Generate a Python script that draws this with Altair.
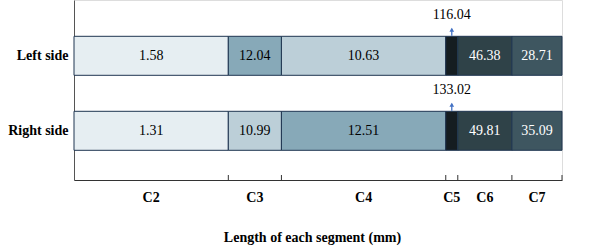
import altair as alt
import pandas as pd

segments = ["C2", "C3", "C4", "C5", "C6", "C7"]
seg_length = [15.4, 5.3, 16.4, 1.2, 5.4, 5.0]
sides = ["Left side", "Right side"]
left_values = [1.58, 12.04, 10.63, 116.04, 46.38, 28.71]
right_values = [1.31, 10.99, 12.51, 133.02, 49.81, 35.09]
shades = ["#e6eef2", "#bccfd8", "#87a9b8", "#3e5660", "#2f4248", "#151d21"]
text_shades = ["black", "black", "black", "white", "white", "white"]

rows = []
for side, vals in zip(sides, [left_values, right_values]):
    order = sorted(range(len(vals)), key=lambda i: vals[i])
    rank = {idx: r for r, idx in enumerate(order)}
    start = 0.0
    for i, (seg, ln, v) in enumerate(zip(segments, seg_length, vals)):
        rows.append({
            "side": side, "segment": seg, "value": v,
            "start": start, "end": start + ln, "mid": start + ln / 2,
            "rank": rank[i], "fill": shades[rank[i]], "tcolor": text_shades[rank[i]],
        })
        start += ln
df = pd.DataFrame(rows)
total = sum(seg_length)
FONT = "Liberation Serif"

base = alt.Chart(df)

yenc = alt.Y("side:N", sort=sides,
             scale=alt.Scale(domain=sides, paddingInner=0.48, paddingOuter=0.44, align=0.55),
             axis=alt.Axis(title=None, ticks=False, labelPadding=6, labelFont=FONT,
                           labelFontSize=14, labelFontWeight="bold", labelColor="black",
                           domainColor="#555555", labelLimit=200))
xscale = alt.Scale(domain=[0, total], nice=False, zero=True)

bars = base.mark_bar(stroke="#1f3550", strokeWidth=1).encode(
    x=alt.X("start:Q", scale=xscale,
            axis=alt.Axis(title="Length of each segment (mm)", labels=False, ticks=False,
                          grid=False, domainColor="#333333", titleFont=FONT,
                          titleFontSize=14, titleFontWeight="bold", titleColor="black",
                          titlePadding=50, titleX=238, titleAlign="center")),
    x2="end:Q",
    y=yenc,
    fill=alt.Fill("fill:N", scale=None),
)

labels = base.transform_filter(alt.datum.segment != "C5").mark_text(
    font=FONT, fontSize=14).encode(
    x="mid:Q", y=alt.Y("side:N", sort=sides), text=alt.Text("value:Q", format=".2f"),
    color=alt.Color("tcolor:N", scale=None))

top_labels = base.transform_filter(alt.datum.segment == "C5").mark_text(
    font=FONT, fontSize=14, yOffset=-41, color="black").encode(
    x="mid:Q", y=alt.Y("side:N", sort=sides), text=alt.Text("value:Q", format=".2f"))

arrow_shaft = base.transform_filter(alt.datum.segment == "C5").mark_rule(
    color="#4472c4", strokeWidth=1.3, yOffset=-20, y2Offset=-27).encode(
    x="mid:Q", y=alt.Y("side:N", sort=sides), y2="side:N")

arrow_head = base.transform_filter(alt.datum.segment == "C5").mark_point(
    shape="triangle-up", filled=True, color="#4472c4", size=22, opacity=1, yOffset=-26).encode(
    x="mid:Q", y=alt.Y("side:N", sort=sides))

seg_df = df[df.side == "Left side"]
cat_labels = alt.Chart(seg_df).mark_text(font=FONT, fontSize=14, fontWeight="bold",
                                         color="black").encode(
    x="mid:Q", y=alt.value(198), text="segment:N")

tick_marks = alt.Chart(seg_df).mark_rule(color="#333333", strokeWidth=1).encode(
    x="end:Q", y=alt.value(175), y2=alt.value(180))

chart = alt.layer(bars, labels, top_labels, arrow_shaft, arrow_head, cat_labels, tick_marks).properties(
    width=488, height=180,
    autosize=alt.AutoSizeParams(type="none"),
    padding={"left": 74, "top": 0, "right": 38, "bottom": 71},
).configure_view(stroke=None).configure(background="white")

chart.save("out.html", embed_options={"renderer": "svg", "actions": False})
